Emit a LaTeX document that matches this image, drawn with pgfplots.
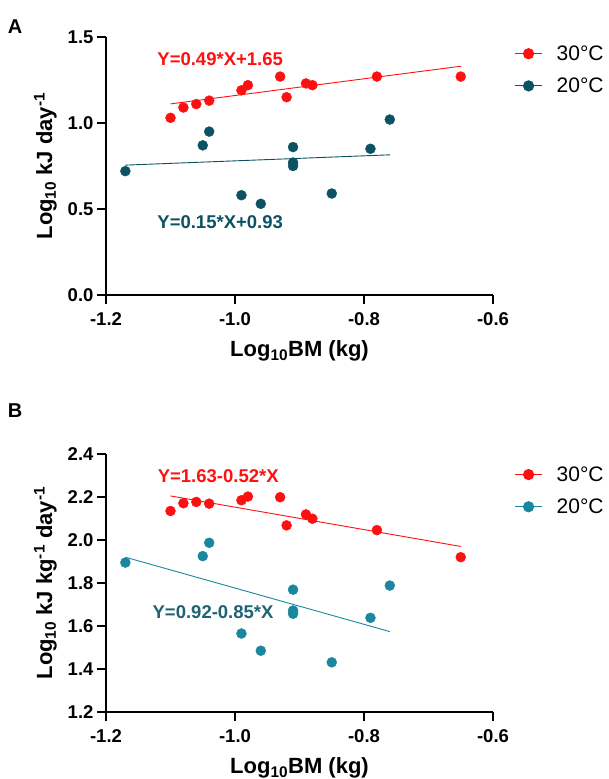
\documentclass[border=0pt]{standalone}
\usepackage{pgfplots}
\pgfplotsset{compat=1.18}
\usepackage{fontspec}
\setmainfont{Liberation Sans}
\definecolor{myred}{HTML}{FF1010}
\definecolor{tealA}{HTML}{0C5262}
\definecolor{tealB}{HTML}{1A879E}
\definecolor{tealBtxt}{HTML}{1E6374}
\pgfplotsset{
  panel/.style={
    scale only axis, width=387pt, height=258pt,
    anchor=south west,
    axis lines=left, axis line style={line width=1.8pt, -},
    tick style={line width=1.8pt, black},
    tick align=outside, major tick length=9pt,
    xmin=-1.2, xmax=-0.6, xtick={-1.2,-1.0,-0.8,-0.6},
    clip=false,
    /pgf/number format/assume math mode=true,
    /pgf/number format/.cd, fixed, fixed zerofill, precision=1, /pgfplots/.cd,
    tick label style={font=\bfseries\fontsize{18.5}{18.5}\selectfont},
    xticklabel style={yshift=-5pt},
    label style={font=\bfseries\fontsize{22}{22}\selectfont},
    xlabel style={yshift=-8pt},
    ylabel style={yshift=4pt},
    xlabel={Log\textsubscript{10}BM (kg)},
    legend style={draw=none, fill=none, font=\fontsize{21}{21}\selectfont,
      anchor=north west, row sep=12pt, column sep=12pt, inner sep=0pt,
      nodes={inner sep=2pt}},
    legend cell align=left,
    legend image code/.code={\draw[mark repeat=2,mark phase=2,##1] plot coordinates {(0pt,0pt) (13.5pt,0pt) (27pt,0pt)};},
  },
  pts/.style={only marks, mark=*, mark size=5pt, forget plot},
}
\begin{document}
\begin{tikzpicture}[x=1pt,y=1pt]
\path[use as bounding box] (0,0) rectangle (609,779);
\node[font=\bfseries\fontsize{20}{20}\selectfont] at (15,752) {A};
\node[font=\bfseries\fontsize{20}{20}\selectfont] at (15,368) {B};
% Panel A
\begin{axis}[panel, at={(106pt,484pt)},
  ymin=0, ymax=1.5, ytick={0,0.5,1.0,1.5},
  ylabel={Log\textsubscript{10} kJ day\textsuperscript{-1}},
  legend style={at={(1.055,0.975)}}]
\addplot[pts, color=myred] coordinates {
(-1.10,1.03) (-1.08,1.09) (-1.06,1.11) (-1.04,1.13) (-0.99,1.19) (-0.98,1.22)
(-0.93,1.27) (-0.92,1.15) (-0.89,1.23) (-0.88,1.22) (-0.78,1.27) (-0.65,1.27)};
\addplot[pts, color=tealA] coordinates {
(-1.17,0.72) (-1.05,0.87) (-1.04,0.95) (-0.99,0.58) (-0.96,0.53) (-0.91,0.86)
(-0.91,0.77) (-0.91,0.75) (-0.85,0.59) (-0.79,0.85) (-0.76,1.02)};
\addplot[myred, line width=0.9pt, forget plot] coordinates {(-1.10,1.111) (-0.65,1.330)};
\addplot[tealA, line width=0.9pt, forget plot] coordinates {(-1.17,0.755) (-0.76,0.815)};
\addlegendimage{myred, line width=1.2pt, mark=*, mark size=5pt}
\addlegendentry{30°C}
\addlegendimage{tealA, line width=1.2pt, mark=*, mark size=5pt}
\addlegendentry{20°C}
\node[text=myred, font=\bfseries\fontsize{18.5}{18.5}\selectfont] at (axis cs:-1.023,1.37) {Y=0.49*X+1.65};
\node[text=tealA, font=\bfseries\fontsize{18.5}{18.5}\selectfont] at (axis cs:-1.023,0.426) {Y=0.15*X+0.93};
\end{axis}
% Panel B
\begin{axis}[panel, at={(106pt,67pt)},
  ymin=1.2, ymax=2.4, ytick={1.2,1.4,...,2.4},
  ylabel={Log\textsubscript{10} kJ kg\textsuperscript{-1} day\textsuperscript{-1}},
  legend style={at={(1.055,0.96)}}]
\addplot[pts, color=myred] coordinates {
(-1.10,2.135) (-1.08,2.171) (-1.06,2.177) (-1.04,2.169) (-0.99,2.185) (-0.98,2.202)
(-0.93,2.199) (-0.92,2.068) (-0.89,2.119) (-0.88,2.099) (-0.78,2.046) (-0.65,1.920)};
\addplot[pts, color=tealB] coordinates {
(-1.17,1.895) (-1.05,1.925) (-1.04,1.987) (-0.99,1.565) (-0.96,1.485) (-0.91,1.769)
(-0.91,1.672) (-0.91,1.657) (-0.85,1.431) (-0.79,1.638) (-0.76,1.788)};
\addplot[myred, line width=0.9pt, forget plot] coordinates {(-1.10,2.205) (-0.65,1.970)};
\addplot[tealB, line width=0.9pt, forget plot] coordinates {(-1.17,1.920) (-0.76,1.574)};
\addlegendimage{myred, line width=1.2pt, mark=*, mark size=5pt}
\addlegendentry{30°C}
\addlegendimage{tealB, line width=1.2pt, mark=*, mark size=5pt}
\addlegendentry{20°C}
\node[text=myred, font=\bfseries\fontsize{18.5}{18.5}\selectfont] at (axis cs:-1.026,2.298) {Y=1.63-0.52*X};
\node[text=tealBtxt, font=\bfseries\fontsize{18.5}{18.5}\selectfont] at (axis cs:-1.034,1.665) {Y=0.92-0.85*X};
\end{axis}
\end{tikzpicture}
\end{document}
